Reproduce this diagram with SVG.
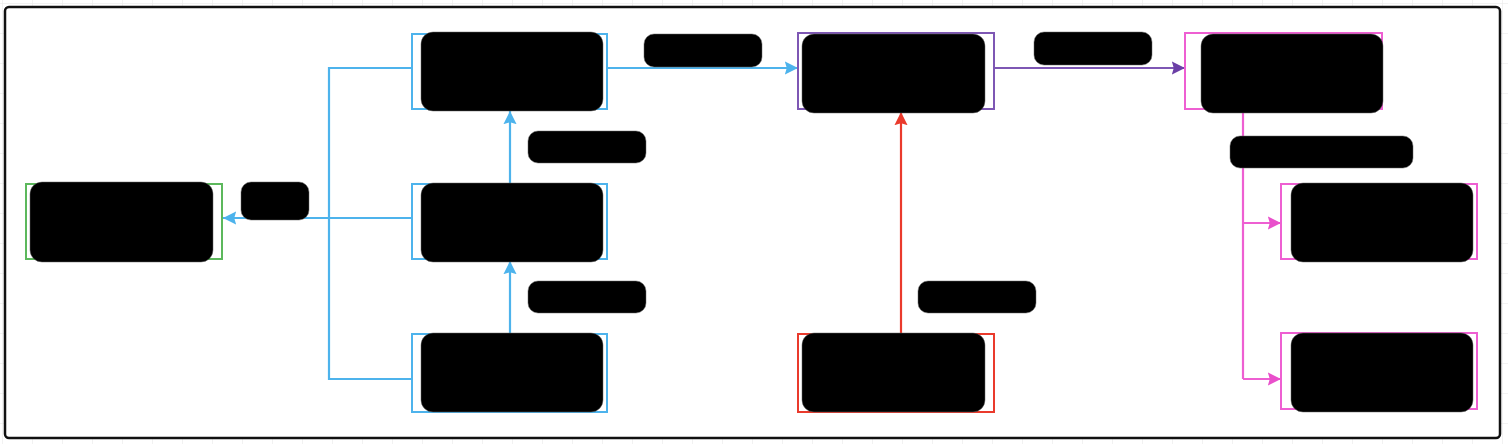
<svg xmlns="http://www.w3.org/2000/svg" width="1508" height="444" viewBox="0 0 1508 444">
<defs>
<pattern id="grid" x="2" y="3" width="30" height="30" patternUnits="userSpaceOnUse">
<path d="M0 0H30M0 0V30" fill="none" stroke="#e6e6e6" stroke-width="1"/>
</pattern>
<marker id="ab" viewBox="0 0 10 10" refX="10" refY="5" markerWidth="6" markerHeight="6" orient="auto"><path d="M0 0L10 5L0 10L1.5 5Z" fill="#4db3ec"/></marker>
<marker id="ap" viewBox="0 0 10 10" refX="10" refY="5" markerWidth="6" markerHeight="6" orient="auto"><path d="M0 0L10 5L0 10L1.5 5Z" fill="#6b3fa6"/></marker>
<marker id="ar" viewBox="0 0 10 10" refX="10" refY="5" markerWidth="6" markerHeight="6" orient="auto"><path d="M0 0L10 5L0 10L1.5 5Z" fill="#ea3a2c"/></marker>
<marker id="am" viewBox="0 0 10 10" refX="10" refY="5" markerWidth="6" markerHeight="6" orient="auto"><path d="M0 0L10 5L0 10L1.5 5Z" fill="#e94fcb"/></marker>
</defs>
<style>
.frame{fill:#fff;stroke:#111;stroke-width:2.5}
.nb{fill:#fff;stroke:#4db3ec;stroke-width:2}
.ng{fill:#fff;stroke:#5cb85c;stroke-width:2}
.np{fill:#fff;stroke:#7e57b4;stroke-width:2}
.nr{fill:#fff;stroke:#ea3a2c;stroke-width:2}
.nm{fill:#fff;stroke:#ee5fd2;stroke-width:2}
.red{fill:#000;stroke:#666;stroke-width:0.5}
.cb{fill:none;stroke:#4db3ec;stroke-width:2.2}
.cp{fill:none;stroke:#7e57b4;stroke-width:2.2}
.cr{fill:none;stroke:#ea3a2c;stroke-width:2.2}
.cm{fill:none;stroke:#ee5fd2;stroke-width:2.2}
</style>
<rect width="1508" height="444" fill="#fff"/>
<rect width="1508" height="444" fill="url(#grid)"/>
<rect class="frame" x="5" y="7" width="1495" height="431" rx="4"/>

<g id="connectors">
<path class="cb" d="M412 68H329V379H412"/>
<path class="cb" d="M412 218H223" marker-end="url(#ab)"/>
<path class="cb" d="M607 68H798" marker-end="url(#ab)"/>
<path class="cb" d="M510 183V111" marker-end="url(#ab)"/>
<path class="cb" d="M510 333V261" marker-end="url(#ab)"/>
<path class="cp" d="M994 68H1185" marker-end="url(#ap)"/>
<path class="cr" d="M901 333V112" marker-end="url(#ar)"/>
<path class="cm" d="M1243 113V379"/>
<path class="cm" d="M1243 223H1281" marker-end="url(#am)"/>
<path class="cm" d="M1243 379H1281" marker-end="url(#am)"/>
<rect class="red" x="241" y="182" width="68" height="38" rx="10"/>
<rect class="red" x="644" y="34" width="118" height="33" rx="10"/>
<rect class="red" x="528" y="131" width="118" height="32" rx="10"/>
<rect class="red" x="528" y="281" width="118" height="32" rx="10"/>
<rect class="red" x="1034" y="32" width="118" height="33" rx="10"/>
<rect class="red" x="918" y="281" width="118" height="32" rx="10"/>
<rect class="red" x="1230" y="136" width="183" height="32" rx="10"/>
</g>

<g id="node-green">
<rect class="ng" x="26" y="184" width="196" height="75"/>
<rect class="red" x="30" y="182" width="183" height="80" rx="12"/>
</g>
<g id="node-blue1">
<rect class="nb" x="412" y="34" width="195" height="75"/>
<rect class="red" x="421" y="32" width="182" height="79" rx="12"/>
</g>
<g id="node-blue2">
<rect class="nb" x="412" y="184" width="195" height="75"/>
<rect class="red" x="421" y="183" width="182" height="79" rx="12"/>
</g>
<g id="node-blue3">
<rect class="nb" x="412" y="334" width="195" height="78"/>
<rect class="red" x="421" y="333" width="182" height="79" rx="12"/>
</g>
<g id="node-purple">
<rect class="np" x="798" y="33" width="196" height="76"/>
<rect class="red" x="802" y="34" width="183" height="79" rx="12"/>
</g>
<g id="node-red">
<rect class="nr" x="798" y="334" width="196" height="78"/>
<rect class="red" x="802" y="333" width="183" height="79" rx="12"/>
</g>
<g id="node-pink1">
<rect class="nm" x="1185" y="33" width="197" height="76"/>
<rect class="red" x="1201" y="34" width="182" height="79" rx="12"/>
</g>
<g id="node-pink2">
<rect class="nm" x="1281" y="184" width="196" height="75"/>
<rect class="red" x="1291" y="183" width="182" height="79" rx="12"/>
</g>
<g id="node-pink3">
<rect class="nm" x="1281" y="333" width="196" height="76"/>
<rect class="red" x="1291" y="333" width="182" height="79" rx="12"/>
</g>
</svg>
